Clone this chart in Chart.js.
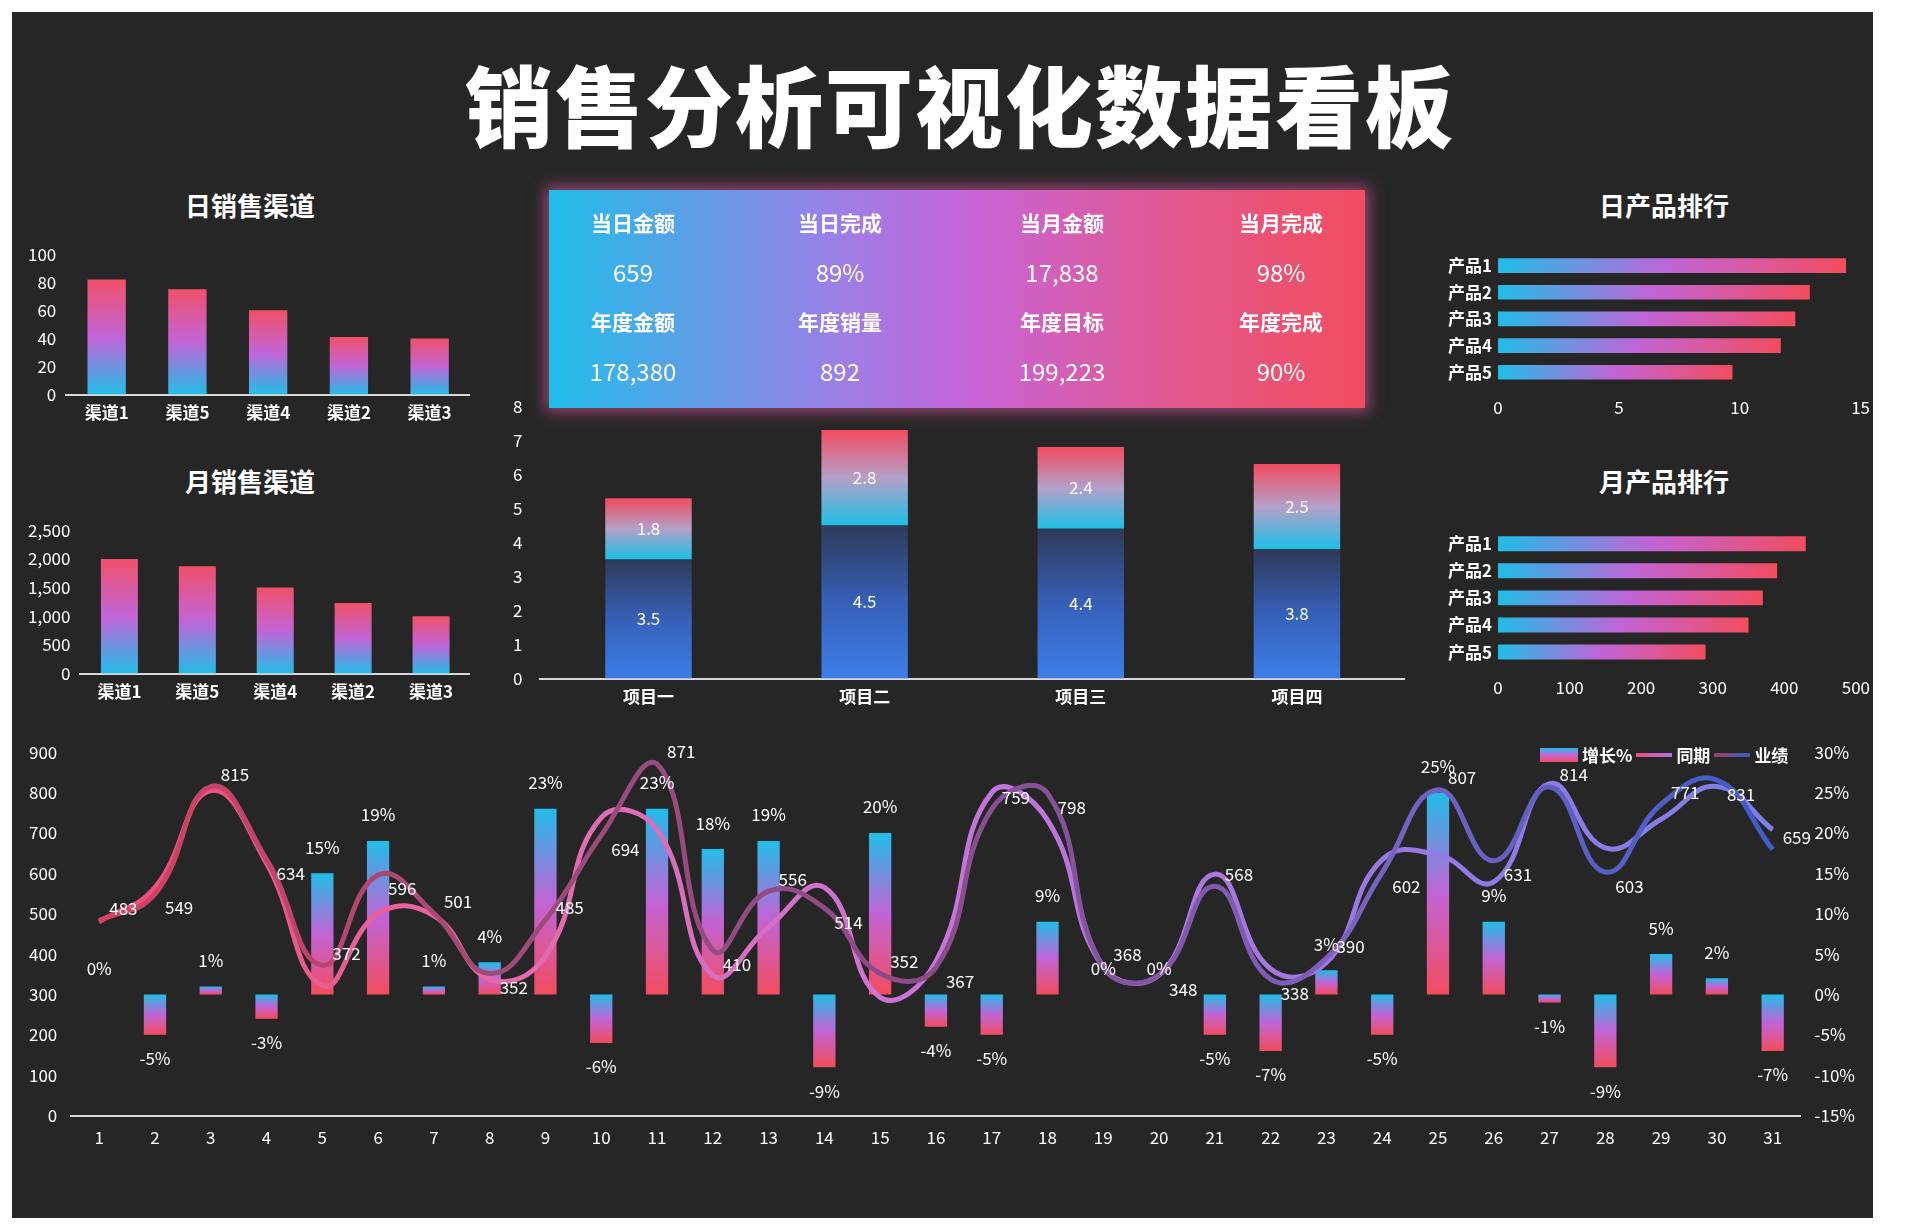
<!DOCTYPE html>
<html><head><meta charset="utf-8">
<script src="https://cdn.jsdelivr.net/npm/chart.js@4"></script>
<style>
body{margin:0;background:#fff;width:1920px;height:1231px;overflow:hidden;font-family:"Noto Sans CJK SC",sans-serif;}
#bg{position:absolute;left:12px;top:12px;width:1861px;height:1206px;background:#262626;}
.box{position:absolute;}
.t{position:absolute;color:#fff;font-weight:bold;font-size:26px;transform:translateX(-50%);white-space:nowrap;}
#title{position:absolute;left:0;width:1920px;top:38px;text-align:center;color:#fff;font-weight:900;font-size:88px;letter-spacing:2px;}
#kpi{position:absolute;left:549px;top:190px;width:816px;height:218px;background:linear-gradient(90deg,#20bde8 0%,#9a80e6 35%,#c864d8 52%,#e2588a 78%,#f24c5e 100%);box-shadow:0 0 14px 4px rgba(230,90,170,0.6);z-index:5;}
.k{position:absolute;color:#fff;transform:translate(-50%,-50%);white-space:nowrap;}
.kl{font-size:21px;font-weight:bold;}
.kv{font-size:24px;}
#leg{position:absolute;left:1540px;top:742px;color:#fff;font-size:17px;font-weight:bold;display:flex;align-items:center;gap:4px;}
</style></head><body>
<div id="bg"></div>
<div id="title">销售分析可视化数据看板</div>
<div class="t" style="left:250px;top:186px">日销售渠道</div>
<div class="t" style="left:250px;top:462px">月销售渠道</div>
<div class="t" style="left:1664px;top:186px">日产品排行</div>
<div class="t" style="left:1664px;top:462px">月产品排行</div>
<div id="kpi"></div>
<div class="box" style="left:18px;top:234px;width:452px;height:197px"><canvas id="c1"></canvas></div>
<div class="box" style="left:18px;top:510px;width:452px;height:200px"><canvas id="c2"></canvas></div>
<div class="box" style="left:495px;top:378px;width:910px;height:337px"><canvas id="c3"></canvas></div>
<div class="box" style="left:1442px;top:236px;width:440px;height:194px"><canvas id="c4"></canvas></div>
<div class="box" style="left:1442px;top:514px;width:440px;height:196px"><canvas id="c5"></canvas></div>
<div class="box" style="left:15px;top:728px;width:1860px;height:432px"><canvas id="c6"></canvas></div>
<div id="leg">
<span style="display:inline-block;width:38px;height:14px;background:linear-gradient(#20bde8,#c864d8,#f24c5e)"></span><span>增长%</span>
<span style="display:inline-block;width:36px;height:4px;background:linear-gradient(90deg,#f0507a,#b070e8)"></span><span>同期</span>
<span style="display:inline-block;width:36px;height:4px;background:linear-gradient(90deg,#a04060,#3a5cc0)"></span><span>业绩</span>
</div>
<script>
const channelLabels=['渠道1','渠道5','渠道4','渠道2','渠道3'];
const dayChannel=[82,75,60,41,40];
const monthChannel=[2000,1870,1500,1230,1000];
const projects=['项目一','项目二','项目三','项目四'];
const projDone=[3.5,4.5,4.4,3.8];
const projRest=[1.8,2.8,2.4,2.5];
const productLabels=['产品1','产品2','产品3','产品4','产品5'];
const dayProduct=[14.4,12.9,12.3,11.7,9.7];
const monthProduct=[430,390,370,350,290];
const days=Array.from({length:31},(_,i)=>String(i+1));
const growth=[0,-5,1,-3,15,19,1,4,23,-6,23,18,19,-9,20,-4,-5,9,0,0,-5,-7,3,-5,25,9,-1,-9,5,2,-7];
const perf=[483,549,815,634,372,596,501,352,485,694,871,410,556,514,352,367,759,798,368,348,568,338,390,602,807,631,814,603,771,831,659];
const lastYear=[480,565,805,625,322,500,495,338,395,738,708,348,467,565,293,382,800,732,368,348,598,363,379,634,646,579,822,663,734,815,708];
const kpiLabels=[['当日金额','当日完成','当月金额','当月完成'],['年度金额','年度销量','年度目标','年度完成']];
const kpiValues=[['659','89%','17,838','98%'],['178,380','892','199,223','90%']];

const kx=[633,840,1062,1281], ky=[[222,271],[321,370]];
kpiLabels.forEach((row,r)=>row.forEach((l,c)=>{
  const a=document.createElement('div');a.className='k kl';a.textContent=l;a.style.left=kx[c]+'px';a.style.top=ky[r][0]+'px';a.style.zIndex=6;document.body.appendChild(a);
  const b=document.createElement('div');b.className='k kv';b.textContent=kpiValues[r][c];b.style.left=kx[c]+'px';b.style.top=ky[r][1]+'px';b.style.zIndex=6;document.body.appendChild(b);
}));

Chart.defaults.font.family='"Noto Sans CJK SC","Noto Sans",sans-serif';
Chart.defaults.color='#fff';
Chart.defaults.animation=false;
const FS=17;
function mk(ch,x0,y0,x1,y1,stops){
  if(![x0,y0,x1,y1].every(Number.isFinite)) return stops[0];
  if(x0===x1&&y0===y1) y1+=0.01;
  const g=ch.ctx.createLinearGradient(x0,y0,x1,y1);
  stops.forEach((s,i)=>g.addColorStop(i/(stops.length-1),s));return g;
}
function vGrad(ctx,stops,axis){
  const ch=ctx.chart; const sc=ch.scales[axis||'y'];
  if(!sc||typeof ctx.raw!=='number') return stops[0];
  const p1=sc.getPixelForValue(ctx.raw), p0=sc.getPixelForValue(0);
  return mk(ch,0,Math.min(p0,p1),0,Math.max(p0,p1)+0.01,stops);
}
function hGrad(ctx,stops){
  const ch=ctx.chart; const sc=ch.scales.x;
  if(!sc||typeof ctx.raw!=='number') return stops[0];
  return mk(ch,sc.getPixelForValue(0),0,sc.getPixelForValue(ctx.raw)+0.01,0,stops);
}
const axisLine={display:true,color:'#d8d8d8',width:2};
function smallBar(id,labels,data,max,step,fmt){
  new Chart(document.getElementById(id),{type:'bar',
    data:{labels,datasets:[{data,backgroundColor:c=>vGrad(c,['#f0506a','#c264d6','#22bde8']),barPercentage:0.5,categoryPercentage:0.95}]},
    options:{responsive:true,maintainAspectRatio:false,plugins:{legend:{display:false},tooltip:{enabled:false}},
      scales:{x:{grid:{display:false,drawTicks:false},border:axisLine,ticks:{font:{size:FS,weight:'bold'},padding:8}},
        y:{min:0,max,grid:{display:false,drawTicks:false},border:{display:false},ticks:{stepSize:step,font:{size:FS},padding:10,callback:fmt}}}}});
}
smallBar('c1',channelLabels,dayChannel,100,20);
smallBar('c2',channelLabels,monthChannel,2500,500,v=>v.toLocaleString('en-US'));

const LBL={};
const lblPlugin={id:'lbl',afterDatasetsDraw(ch){
  const f=LBL[ch.canvas.id]; if(f) f(ch);
}};

LBL.c3=ch=>{const c=ch.ctx;c.save();c.fillStyle='#fff';c.font='17px "Noto Sans CJK SC"';c.textAlign='center';c.textBaseline='middle';
  ch.data.datasets.forEach((d,di)=>ch.getDatasetMeta(di).data.forEach((el,i)=>{c.fillText(d.data[i].toFixed(1),el.x,(el.y+el.base)/2);}));c.restore();};
new Chart(document.getElementById('c3'),{type:'bar',plugins:[lblPlugin],
  data:{labels:projects,datasets:[
    {data:projDone,backgroundColor:c=>{const ch=c.chart,sc=ch.scales.y;if(!sc||typeof c.raw!=='number')return '#3b7ae0';return mk(ch,0,sc.getPixelForValue(c.raw),0,sc.getPixelForValue(0),['#2e3a58','#3660b8','#3c7ee8']);},barPercentage:0.4,categoryPercentage:1},
    {data:projRest,backgroundColor:c=>{const ch=c.chart,sc=ch.scales.y;if(!sc||typeof c.raw!=='number')return '#f04e62';const base=projDone[c.dataIndex];return mk(ch,0,sc.getPixelForValue(base+c.raw),0,sc.getPixelForValue(base),['#f24c60','#b4a0c8','#1ec0e6']);},barPercentage:0.4,categoryPercentage:1}]},
  options:{responsive:true,maintainAspectRatio:false,layout:{padding:{top:8}},plugins:{legend:{display:false},tooltip:{enabled:false}},
    scales:{x:{stacked:true,grid:{display:false,drawTicks:false},border:axisLine,ticks:{font:{size:FS,weight:'bold'},padding:8}},
      y:{stacked:true,min:0,max:8,grid:{display:false,drawTicks:false},border:{display:false},ticks:{stepSize:1,font:{size:FS},padding:18}}}}});

function hBar(id,data,max,step){
  new Chart(document.getElementById(id),{type:'bar',
    data:{labels:productLabels,datasets:[{data,backgroundColor:c=>hGrad(c,['#20bde8','#c264d6','#f24c5e']),barPercentage:0.55,categoryPercentage:1}]},
    options:{indexAxis:'y',responsive:true,maintainAspectRatio:false,layout:{padding:{right:20}},plugins:{legend:{display:false},tooltip:{enabled:false}},
      scales:{y:{grid:{display:false,drawTicks:false},border:{display:false},ticks:{font:{size:FS,weight:'bold'},padding:6}},
        x:{min:0,max,grid:{display:false,drawTicks:false},border:{display:false},ticks:{stepSize:step,font:{size:FS},padding:12}}}}});
}
hBar('c4',dayProduct,15,5);
hBar('c5',monthProduct,500,100);

function lineGrad(ch,stops){const a=ch.chartArea;if(!a)return stops[0];return mk(ch,a.left,0,a.right,0,stops);}
LBL.c6=ch=>{const c=ch.ctx;c.save();c.fillStyle='#fff';c.font='17px "Noto Sans CJK SC"';c.textBaseline='middle';
  c.textAlign='center';ch.getDatasetMeta(2).data.forEach((el,i)=>{const v=growth[i];const y=v>=0?el.y-26:el.y+24;c.fillText(v+'%',el.x,y);});
  c.textAlign='left';ch.getDatasetMeta(0).data.forEach((el,i)=>{c.fillText(String(perf[i]),el.x+10,el.y+(i%2?14:-12));});c.restore();};
new Chart(document.getElementById('c6'),{plugins:[lblPlugin],
  data:{labels:days,datasets:[
    {type:'line',label:'业绩',data:perf,yAxisID:'y',borderColor:c=>lineGrad(c.chart,['#d84060','#a04a78','#8a4c8a','#7a62c0','#3a5cc8']),borderWidth:5,tension:0.45,pointRadius:0,order:1},
    {type:'line',label:'同期',data:lastYear,yAxisID:'y',borderColor:c=>lineGrad(c.chart,['#f04870','#e66aa8','#c874d8','#9a78e0','#7a80e8']),borderWidth:5,tension:0.45,pointRadius:0,order:2},
    {type:'bar',label:'增长%',data:growth,yAxisID:'y1',backgroundColor:c=>vGrad(c,['#20bde8','#c264d6','#f24c5e'],'y1'),barPercentage:0.4,categoryPercentage:1,order:3}]},
  options:{responsive:true,maintainAspectRatio:false,layout:{padding:{top:12,right:6}},plugins:{legend:{display:false},tooltip:{enabled:false}},
    scales:{x:{grid:{display:false,drawTicks:false},border:axisLine,ticks:{font:{size:FS},padding:12}},
      y:{min:0,max:900,position:'left',grid:{display:false,drawTicks:false},border:{display:false},ticks:{stepSize:100,font:{size:FS},padding:14}},
      y1:{min:-15,max:30,position:'right',grid:{display:false,drawTicks:false},border:{display:false},ticks:{stepSize:5,font:{size:FS},padding:14,callback:v=>v+'%'}}}}});
</script>
</body></html>
